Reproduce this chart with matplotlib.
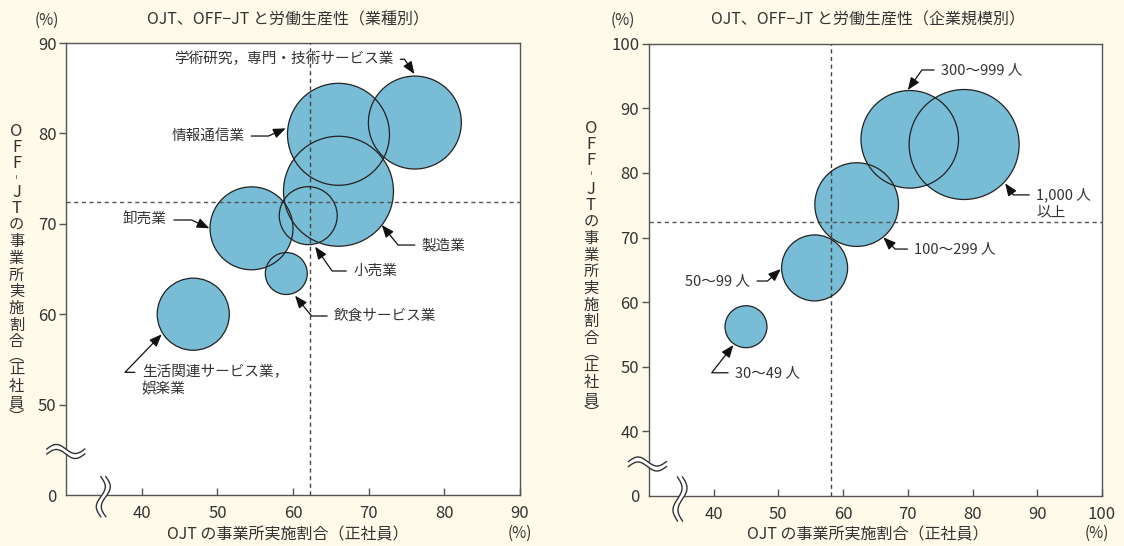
import numpy as np
import matplotlib
matplotlib.use("Agg")
from matplotlib import pyplot as plt
from matplotlib.lines import Line2D
from matplotlib.patches import Polygon

plt.rcParams["font.family"] = ["Noto Sans CJK JP", "DejaVu Sans"]

# 業種別: OJT rate, OFF-JT rate (%), bubble = labour productivity (relative)
industries = ["学術研究，専門・技術サービス業", "情報通信業", "製造業", "小売業",
              "卸売業", "飲食サービス業", "生活関連サービス業，"]
ind_ojt = [76.1, 66.0, 66.0, 62.0, 54.5, 59.1, 46.8]
ind_offjt = [81.2, 79.9, 73.6, 70.9, 69.5, 64.5, 60.0]
ind_prod = [2160, 2600, 3025, 840, 1720, 440, 1300]
ind_avg_ojt, ind_avg_offjt = 62.2, 72.4

# 企業規模別
firm_sizes = ["300～999 人", "1,000 人", "100～299 人", "50～99 人", "30～49 人"]
size_ojt = [70.3, 78.7, 62.1, 55.6, 45.0]
size_offjt = [85.2, 84.4, 75.1, 65.3, 56.2]
size_prod = [2380, 3025, 1750, 1090, 440]
size_avg_ojt, size_avg_offjt = 58.2, 72.4

W, H = 1124, 546
BG = "#FFFBEA"
FILL = "#78BCD6"
TXT = "#333333"
SPINE = "#555555"

fig = plt.figure(figsize=(W / 100, H / 100), dpi=100, facecolor=BG)


def px_axes(x0, y0, x1, y1):
    return fig.add_axes([x0 / W, 1 - y1 / H, (x1 - x0) / W, (y1 - y0) / H])


def setup(ax, xlim, ylim):
    ax.set_xlim(*xlim)
    ax.set_ylim(*ylim)
    ax.set_facecolor("white")
    for s in ax.spines.values():
        s.set_color(SPINE)
        s.set_linewidth(1.0)
    xt = list(range(40, xlim[1] + 1, 10))
    ax.set_xticks(xt)
    ax.set_xticklabels([str(v) for v in xt])
    yt = list(range(ylim[0], ylim[1] + 1, 10))
    ax.set_yticks(yt)
    ax.set_yticklabels(["0"] + [str(v) for v in yt[1:]])
    ax.tick_params(axis="x", direction="in", length=5, width=1, color=SPINE,
                   labelsize=12, labelcolor=TXT, pad=7)
    ax.tick_params(axis="y", direction="out", length=5, width=1, color=SPINE,
                   labelsize=12, labelcolor=TXT, pad=2)
    ax.yaxis.get_major_ticks()[0].tick1line.set_visible(False)


def bubbles(ax, x, y, prod, avg_x, avg_y):
    s = [p * 2.0736 for p in prod]
    ax.scatter(x, y, s=s, c=FILL, edgecolors="none", zorder=2)
    ax.axvline(avg_x, color="#444444", lw=1, ls=(0, (3, 2.5)), zorder=3)
    ax.axhline(avg_y, color="#555555", lw=1, ls=(0, (3, 2.5)), zorder=3)
    ax.scatter(x, y, s=s, facecolors="none", edgecolors="#222222",
               linewidths=0.9, zorder=4)


def label(ax, text, xytext, tip, angle_b, ha):
    rel = (1, 0.5) if ha == "right" else (0, 0.5)
    ax.annotate(text, xy=tip, xytext=xytext, ha=ha, va="center",
                fontsize=10.5, color=TXT, zorder=6,
                arrowprops=dict(arrowstyle="-|>,head_length=0.75,head_width=0.3",
                                connectionstyle=f"angle,angleA=0,angleB={angle_b},rad=0",
                                color="#111111", lw=0.9, relpos=rel,
                                shrinkA=3, shrinkB=0, mutation_scale=10))


def vertical_label(x, y0, text):
    # tategaki: one character per position, stacked downward
    y, prev = y0, None
    for ch in text:
        size = 11
        if ch in "︵︶":
            h = 11
        elif ch == "︲":
            h = 13
        elif ord(ch) > 0x2000:
            h = 16.7
        else:
            h = 16
            size = 12
        if prev is not None:
            y += (prev + h) / 2
        fig.text(x / W, 1 - y / H, ch, ha="center", va="center",
                 fontsize=size, color=TXT)
        prev = h


def break_mark(cx, cy, vertical, half=19, amp=4.5, gap=5):
    t = np.linspace(-1, 1, 80)
    along = t * half
    for_off = amp * np.sin(np.pi * t)
    curves = []
    for d in (-gap / 2, gap / 2):
        if vertical:
            xs, ys = cx - for_off + d, cy + along
        else:
            xs, ys = cx + along, cy + for_off + d
        curves.append((xs / W, 1 - ys / H))
    poly = np.vstack([np.column_stack(curves[0]),
                      np.column_stack(curves[1])[::-1]])
    fig.add_artist(Polygon(poly, closed=True, facecolor="white",
                           edgecolor="none", transform=fig.transFigure, zorder=5))
    for xs, ys in curves:
        fig.add_artist(Line2D(xs, ys, color="#333333", lw=1,
                              transform=fig.transFigure, zorder=6))


# ---- left: 業種別 ----
ax1 = px_axes(66.2, 43, 520, 495)
setup(ax1, (30, 90), (40, 90))
bubbles(ax1, ind_ojt, ind_offjt, ind_prod, ind_avg_ojt, ind_avg_offjt)
label(ax1, industries[0], (73.25, 88.2), (76.04, 86.57), 124, "right")
label(ax1, industries[1], (53.55, 79.71), (59.03, 80.56), 24, "right")
label(ax1, industries[2], (77.02, 67.65), (71.73, 69.87), -51, "left")
label(ax1, industries[3], (67.94, 64.78), (62.91, 67.47), -55, "left")
label(ax1, industries[4], (43.32, 70.42), (48.93, 69.5), 155, "right")
label(ax1, industries[5], (65.42, 59.8), (60.26, 62.05), -51, "left")
label(ax1, industries[6], (39.99, 53.57), (42.63, 57.78), 46, "left")
ax1.text(39.99, 51.73, "娯楽業", ha="left", va="center", fontsize=10.5, color=TXT)

# ---- right: 企業規模別 ----
ax2 = px_axes(648.9, 43.7, 1102, 496)
setup(ax2, (30, 100), (30, 100))
bubbles(ax2, size_ojt, size_offjt, size_prod, size_avg_ojt, size_avg_offjt)
label(ax2, firm_sizes[0], (75.15, 95.93), (70.0, 92.83), 55, "left")
label(ax2, firm_sizes[1], (89.83, 76.6), (85.04, 78.39), -55, "left")
label(ax2, firm_sizes[2], (71.02, 68.22), (66.23, 70.03), -45, "left")
label(ax2, firm_sizes[3], (45.63, 63.27), (50.37, 65.12), 42, "right")
label(ax2, firm_sizes[4], (43.31, 49.07), (43.05, 53.36), 52, "left")
ax2.text(89.83, 73.84, "以上", ha="left", va="center", fontsize=10.5, color=TXT)

# titles, units and axis labels
for cx, title in [(288, "OJT、OFF−JT と労働生産性（業種別）"),
                  (868, "OJT、OFF−JT と労働生産性（企業規模別）")]:
    fig.text(cx / W, 1 - 20 / H, title, ha="center", va="center",
             fontsize=11.5, color=TXT)
for x, y in [(47, 20), (623, 20), (520, 533), (1097, 533)]:
    fig.text(x / W, 1 - y / H, "(%)", ha="center", va="center",
             fontsize=11, color=TXT)
for cx in (288, 868):
    fig.text(cx / W, 1 - 535 / H, "OJT の事業所実施割合（正社員）",
             ha="center", va="center", fontsize=11.5, color=TXT)
ylab = "OFF︲JTの事業所実施割合︵正社員︶"
vertical_label(16.5, 131.7, ylab)
vertical_label(591, 128.3, ylab)

# axis break marks
break_mark(65.8, 451.5, False)
break_mark(103.3, 496.7, True, half=20)
break_mark(647.5, 464, False)
break_mark(680, 499, True, half=22)

fig.savefig("out.png", dpi=100, facecolor=fig.get_facecolor())
